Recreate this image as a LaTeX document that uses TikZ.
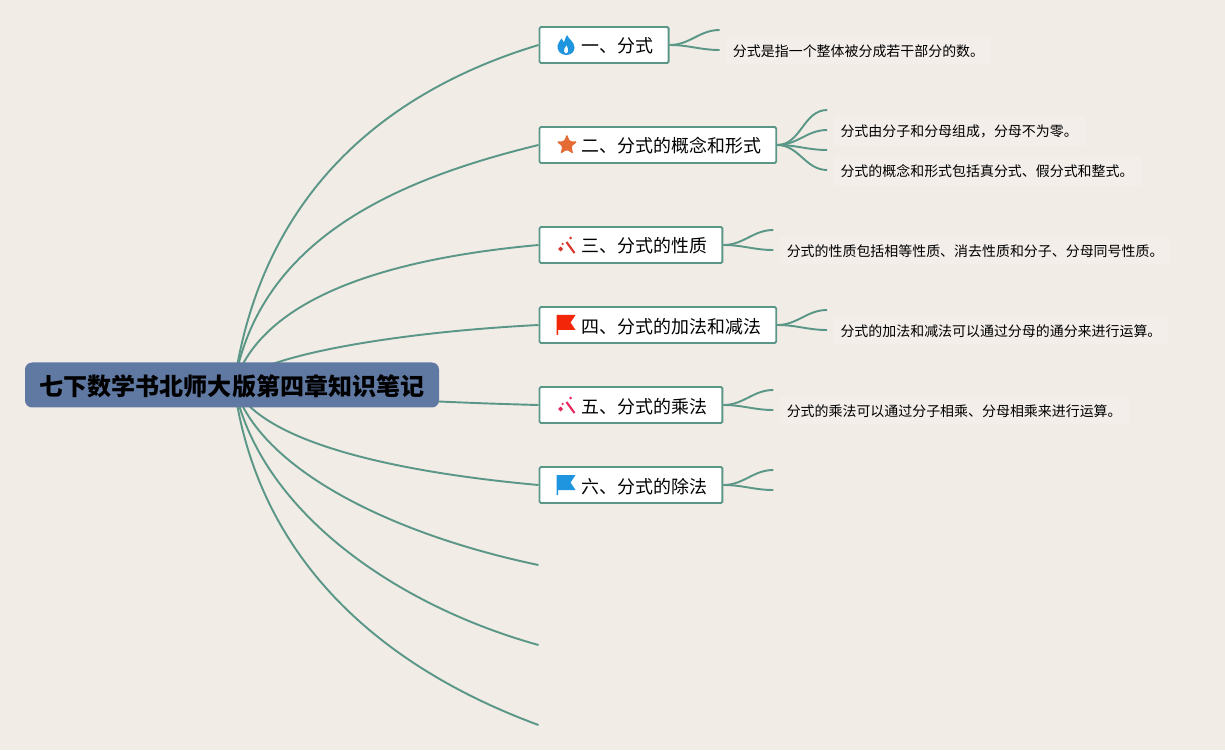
\documentclass[tikz,border=0pt]{standalone}
\usepackage{fontspec}
\setmainfont{Noto Sans CJK SC}
\usetikzlibrary{shapes.geometric,positioning,backgrounds}
\definecolor{pagebg}{HTML}{F2ECE7}
\definecolor{leafbg}{HTML}{F3EEEA}
\definecolor{linegreen}{HTML}{5B9787}
\definecolor{rootblue}{HTML}{6079A3}
\definecolor{fireblue}{HTML}{1F95E0}
\definecolor{starorange}{HTML}{E56B35}
\definecolor{wandred}{HTML}{D9362B}
\definecolor{wandpink}{HTML}{E8285F}
\definecolor{flagred}{HTML}{F4260A}

\begin{document}
\begin{tikzpicture}[
    root/.style={rectangle, rounded corners=4pt, fill=rootblue, text=black, minimum height=0.9cm, minimum width=8.28cm, text height=0.52cm, text depth=0.1cm, font=\fontsize{13.68pt}{16pt}\selectfont\bfseries},
    topic/.style={rectangle, draw=linegreen, line width=1.1pt, rounded corners=0.8pt, fill=white, minimum height=0.72cm, inner xsep=0.3cm, text height=0.36cm, text depth=0.04cm, font=\fontsize{10.2pt}{12pt}\selectfont},
    leaf/.style={rectangle, fill=leafbg, inner xsep=0.14cm, inner ysep=0.16cm, font=\fontsize{7.94pt}{10pt}\selectfont},
    branch/.style={draw=linegreen, line width=1.1pt},
    twig/.style={draw=linegreen, line width=1.1pt, out=0, in=180},
    firepic/.pic={
        \fill[fireblue] (0,-0.2) .. controls (-0.12,-0.2) and (-0.18,-0.1) .. (-0.17,-0.01)
            .. controls (-0.16,0.06) and (-0.11,0.08) .. (-0.09,0.13)
            .. controls (-0.06,0.09) and (-0.05,0.07) .. (-0.04,0.05)
            .. controls (-0.02,0.12) and (0,0.16) .. (0.02,0.2)
            .. controls (0.05,0.12) and (0.17,0.06) .. (0.17,-0.05)
            .. controls (0.17,-0.14) and (0.1,-0.2) .. (0,-0.2) -- cycle;
        \fill[white] (0,-0.17) .. controls (-0.04,-0.16) and (-0.05,-0.1) .. (-0.03,-0.07)
            .. controls (-0.02,-0.05) and (0,-0.04) .. (0.01,-0.01)
            .. controls (0.03,-0.05) and (0.05,-0.09) .. (0.04,-0.12)
            .. controls (0.03,-0.15) and (0.02,-0.17) .. (0,-0.17) -- cycle;
    },
    wandpic/.pic={
        \draw[pic actions, line width=1.2pt] (0,0.06) -- (0.16,-0.16);
        \fill[pic actions, draw=none] (-0.17,-0.08) -- (-0.12,-0.03) -- (-0.07,-0.08) -- (-0.12,-0.13) -- cycle;
        \fill[pic actions, draw=none] (0.08,0.17) -- (0.11,0.14) -- (0.08,0.11) -- (0.05,0.14) -- cycle;
        \fill[pic actions, draw=none] (-0.08,0.045) -- (-0.055,0.02) -- (-0.08,-0.005) -- (-0.105,0.02) -- cycle;
    },
    flagpic/.pic={
        \fill[pic actions, draw=none] (-0.2,0.2) -- (0.18,0.2) -- (0.08,0.05) -- (0.18,-0.1) -- (-0.17,-0.1) -- (-0.17,-0.2) -- (-0.2,-0.2) -- cycle;
    }
]

% Background and frame
\useasboundingbox (0,0) rectangle (24.5,15);

% Root
\node[root] (root) at (4.64,7.3) {七下数学书北师大版第四章知识笔记};
\coordinate (hub) at (4.68,7.3);

% Topics
\node[topic, anchor=west] (t1) at (10.77,14.1) {\hspace*{0.55cm}一、分式};
\node[topic, below=2cm of t1.west, anchor=west] (t2) {\hspace*{0.55cm}二、分式的概念和形式};
\node[topic, below=2cm of t2.west, anchor=west] (t3) {\hspace*{0.55cm}三、分式的性质};
\node[topic, below=1.6cm of t3.west, anchor=west] (t4) {\hspace*{0.55cm}四、分式的加法和减法};
\node[topic, below=1.6cm of t4.west, anchor=west] (t5) {\hspace*{0.55cm}五、分式的乘法};
\node[topic, below=1.6cm of t5.west, anchor=west] (t6) {\hspace*{0.55cm}六、分式的除法};

% Empty branch ends
\coordinate[below=1.6cm of t6.west] (e7);
\coordinate[below=1.6cm of e7] (e8);
\coordinate[below=1.6cm of e8] (e9);

% Icons
\pic at ([xshift=0.55cm]t1.west) {firepic};
\node[star, star points=5, star point ratio=2.3, fill=starorange, rounded corners=0.8pt, inner sep=0pt, minimum size=0.44cm, right=0.43cm of t2.west] (star) {};
\pic[color=wandred] at ([xshift=0.56cm]t3.west) {wandpic};
\pic[color=flagred] at ([xshift=0.56cm]t4.west) {flagpic};
\pic[color=wandpink] at ([xshift=0.56cm]t5.west) {wandpic};
\pic[color=fireblue] at ([xshift=0.56cm]t6.west) {flagpic};

% Twig ends
\coordinate (e11) at ([shift={(1cm,0.3cm)}]t1.east);
\coordinate (e12) at ([shift={(1cm,-0.1cm)}]t1.east);
\coordinate (e21) at ([shift={(1cm,0.7cm)}]t2.east);
\coordinate (e22) at ([shift={(1cm,0.3cm)}]t2.east);
\coordinate (e23) at ([shift={(1cm,-0.1cm)}]t2.east);
\coordinate (e24) at ([shift={(1cm,-0.5cm)}]t2.east);
\coordinate (e31) at ([shift={(1cm,0.3cm)}]t3.east);
\coordinate (e32) at ([shift={(1cm,-0.1cm)}]t3.east);
\coordinate (e41) at ([shift={(1cm,0.3cm)}]t4.east);
\coordinate (e42) at ([shift={(1cm,-0.1cm)}]t4.east);
\coordinate (e51) at ([shift={(1cm,0.3cm)}]t5.east);
\coordinate (e52) at ([shift={(1cm,-0.1cm)}]t5.east);
\coordinate (e61) at ([shift={(1cm,0.3cm)}]t6.east);
\coordinate (e62) at ([shift={(1cm,-0.1cm)}]t6.east);

% Leaves
\node[leaf, right=0.12cm of e12, yshift=-0.02cm] (l1) {分式是指一个整体被分成若干部分的数。};
\node[leaf, right=0.12cm of e22, yshift=-0.02cm] (l21) {分式由分子和分母组成，分母不为零。};
\node[leaf, right=0.12cm of e24, yshift=-0.02cm] (l22) {分式的概念和形式包括真分式、假分式和整式。};
\node[leaf, right=0.12cm of e32, yshift=-0.02cm] (l3) {分式的性质包括相等性质、消去性质和分子、分母同号性质。};
\node[leaf, right=0.12cm of e42, yshift=-0.02cm] (l4) {分式的加法和减法可以通过分母的通分来进行运算。};
\node[leaf, right=0.12cm of e52, yshift=-0.02cm] (l5) {分式的乘法可以通过分子相乘、分母相乘来进行运算。};

\begin{scope}[on background layer]
\fill[pagebg] (0,0) rectangle (24.5,15);

% Root branches
\draw[branch] (hub) .. controls +(0.56,3.9) and +(-2.98,-0.9) .. (t1.west);
\draw[branch] (hub) .. controls +(0.5,2.9) and +(-2.88,-0.7) .. (t2.west);
\draw[branch] (hub) .. controls +(0.56,1.8) and +(-2.88,-0.26) .. (t3.west);
\draw[branch] (hub) .. controls +(0.5,0.6) and +(-2.78,-0.14) .. (t4.west);
\draw[branch] (hub) .. controls +(1,-0.2) and +(-2,0.05) .. (t5.west);
\draw[branch] (hub) .. controls +(0.5,-1.14) and +(-2.88,0.26) .. (t6.west);
\draw[branch] (hub) .. controls +(0.5,-1.7) and +(-2.88,0.6) .. (e7);
\draw[branch] (hub) .. controls +(0.5,-2.5) and +(-2.88,0.8) .. (e8);
\draw[branch] (hub) .. controls +(0.5,-3.7) and +(-2.88,1.06) .. (e9);

% Twigs
\draw[twig] (t1.east) to (e11);
\draw[twig] (t1.east) to (e12);
\draw[twig] (t2.east) to (e21);
\draw[twig] (t2.east) to (e22);
\draw[twig] (t2.east) to (e23);
\draw[twig] (t2.east) to (e24);
\draw[twig] (t3.east) to (e31);
\draw[twig] (t3.east) to (e32);
\draw[twig] (t4.east) to (e41);
\draw[twig] (t4.east) to (e42);
\draw[twig] (t5.east) to (e51);
\draw[twig] (t5.east) to (e52);
\draw[twig] (t6.east) to (e61);
\draw[twig] (t6.east) to (e62);
\end{scope}

\end{tikzpicture}
\end{document}
